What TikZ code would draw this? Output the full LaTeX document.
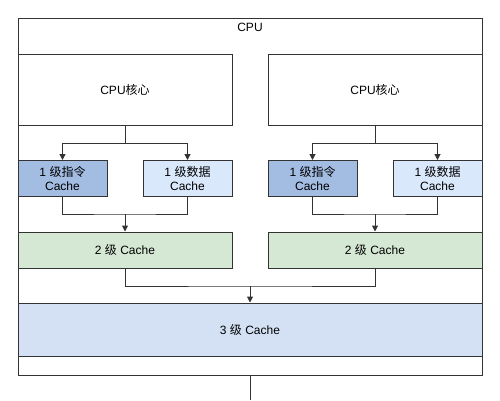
\documentclass[tikz,border=0pt]{standalone}
\usepackage{fontspec}
\setmainfont{Liberation Sans}
\newfontfamily\cjk{Noto Sans CJK SC}
\usetikzlibrary{arrows.meta}
\definecolor{lineC}{HTML}{333333}
\definecolor{instrC}{HTML}{A3BCE2}
\definecolor{dataC}{HTML}{DAE8FC}
\definecolor{ltwoC}{HTML}{D5E8D4}
\definecolor{lthreeC}{HTML}{D4E1F5}
\tikzset{
  box/.style={draw=lineC, line width=1pt, inner sep=0pt, align=center, font=\fontsize{12}{14}\selectfont},
  arr/.style={draw=lineC, line width=1pt, -{Triangle[width=6pt,length=6pt]}},
  ln/.style={draw=lineC, line width=1pt},
}
\begin{document}
\begin{tikzpicture}[x=1pt,y=-1pt]
\useasboundingbox (0,0) rectangle (500,400);
\fill[white] (0,0) rectangle (500,400);
\node[box, minimum width=464pt, minimum height=357pt] (cpu) at (250,196.5) {};
\node[font=\fontsize{12}{14}\selectfont, inner sep=0pt] (cpulabel) at (250,27) {CPU};
% cores
\node[box, fill=white, minimum width=214pt, minimum height=71pt] (core1) at (125,89.5) {CPU{\cjk 核心}};
\node[box, fill=white, minimum width=214pt, minimum height=71pt] (core2) at (375,89.5) {CPU{\cjk 核心}};
% L1
\node[box, fill=instrC, minimum width=89pt, minimum height=36pt] (l1i1) at (62.5,178.5) {1 {\cjk 级指令}\\Cache};
\node[box, fill=dataC, minimum width=89pt, minimum height=36pt] (l1d1) at (187.5,178.5) {1 {\cjk 级数据}\\Cache};
\node[box, fill=instrC, minimum width=89pt, minimum height=36pt] (l1i2) at (312.5,178.5) {1 {\cjk 级指令}\\Cache};
\node[box, fill=dataC, minimum width=89pt, minimum height=36pt] (l1d2) at (437.5,178.5) {1 {\cjk 级数据}\\Cache};
% L2
\node[box, fill=ltwoC, minimum width=214pt, minimum height=36pt] (l2a) at (125,250) {2 {\cjk 级} Cache};
\node[box, fill=ltwoC, minimum width=214pt, minimum height=36pt] (l2b) at (375,250) {2 {\cjk 级} Cache};
% L3
\node[box, fill=lthreeC, minimum width=464pt, minimum height=53pt] (l3) at (250,329.5) {3 {\cjk 级} Cache};
% coordinates
\coordinate (s1) at (125,143);
\coordinate (s2) at (375,143);
\coordinate (j1) at (125,214);
\coordinate (j2) at (375,214);
\coordinate (j3) at (250,286);
\coordinate (bus) at (250,400);
% connectors
\draw[ln] (core1.south) -- (s1);
\draw[arr] (s1) -| (l1i1.north);
\draw[arr] (s1) -| (l1d1.north);
\draw[ln] (core2.south) -- (s2);
\draw[arr] (s2) -| (l1i2.north);
\draw[arr] (s2) -| (l1d2.north);
\draw[ln] (l1i1.south) |- (j1) -| (l1d1.south);
\draw[arr] (j1) -- (l2a.north);
\draw[ln] (l1i2.south) |- (j2) -| (l1d2.south);
\draw[arr] (j2) -- (l2b.north);
\draw[ln] (l2a.south) |- (j3) -| (l2b.south);
\draw[arr] (j3) -- (l3.north);
\draw[ln] (cpu.south) -- (bus);
\end{tikzpicture}
\end{document}
